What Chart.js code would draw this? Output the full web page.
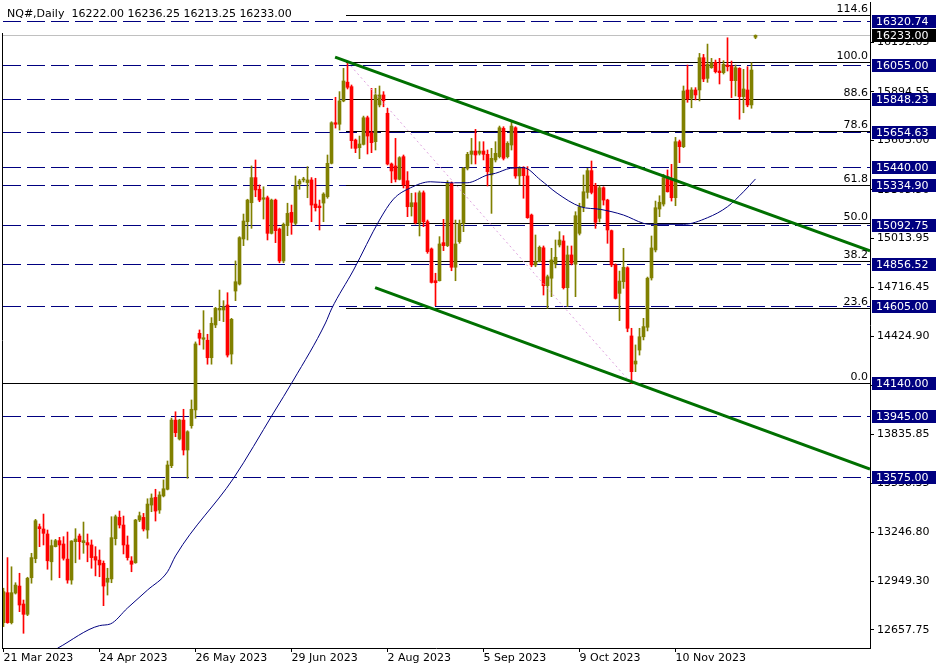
<!DOCTYPE html>
<html>
<head>
<meta charset="utf-8">
<title>NQ#, Daily</title>
<script src="https://cdn.jsdelivr.net/npm/chart.js@4.4.0/dist/chart.umd.min.js"></script>
<style>
  html, body { margin: 0; padding: 0; background: #fff; }
  #wrap { width: 941px; height: 672px; position: relative; }
</style>
</head>
<body>
<div id="wrap"><canvas id="chart"></canvas></div>
<script>
// bar index of each date label on the time axis
const dateTicks = [0, 24, 48, 72, 96, 120, 144, 168];
const dateLabels = ['21 Mar 2023', '24 Apr 2023', '26 May 2023', '29 Jun 2023',
                    '2 Aug 2023', '5 Sep 2023', '9 Oct 2023', '10 Nov 2023'];

// daily candles, one entry per bar
const opens = [
  12702, 12882, 12702, 12880, 12922, 12814, 12752, 12972, 13087, 13279,
  13265, 13235, 13068, 13159, 13195, 13175, 13084, 12958, 13189, 13223,
  13183, 13183, 13169, 13099, 13078, 13059, 12945, 12965, 13207, 13335,
  13289, 13169, 13073, 13062, 13319, 13335, 13259, 13409, 13455, 13379,
  13464, 13504, 13646, 13920, 13806, 13920, 13740, 13886, 13981, 14442,
  14406, 14400, 14295, 14492, 14582, 14582, 14612, 14317, 14696, 14738,
  15009, 15113, 15227, 15378, 15308, 15248, 15257, 15043, 15243, 15069,
  14877, 15089, 15169, 15103, 15340, 15364, 15348, 15364, 15219, 15207,
  15225, 15263, 15464, 15708, 15699, 15839, 15952, 15925, 15604, 15558,
  15578, 15738, 15648, 15594, 15815, 15875, 15765, 15460, 15448, 15368,
  15504, 15359, 15203, 15227, 15107, 15287, 15113, 14949, 14758, 14758,
  14987, 14969, 15344, 14839, 14993, 15103, 15434, 15518, 15538, 15524,
  15538, 15518, 15394, 15484, 15504, 15674, 15504, 15574, 15678, 15388,
  15434, 15388, 15153, 14853, 14872, 14956, 14728, 14773, 14859, 14973,
  14997, 14716, 14913, 14857, 15043, 15203, 15289, 15420, 15329, 15133,
  15317, 15243, 15059, 14853, 14682, 14752, 14836, 14426, 14257, 14341,
  14421, 14478, 14775, 14943, 15189, 15219, 15384, 15370, 15257, 15594,
  15564, 15905, 15855, 15905, 15905, 16099, 15975, 16039, 16071, 16019,
  16009, 16055, 16049, 15961, 16035, 15865, 15905, 15815, 16222
];
const highs = [
  12909, 13093, 13038, 12942, 12999, 12838, 12975, 13119, 13323, 13295,
  13355, 13259, 13199, 13203, 13215, 13219, 13247, 13195, 13267, 13235,
  13307, 13235, 13199, 13159, 13139, 13073, 13029, 13339, 13349, 13373,
  13343, 13223, 13099, 13323, 13367, 13359, 13447, 13476, 13504, 13489,
  13560, 13674, 13932, 13970, 13925, 13985, 13856, 14041, 14390, 14462,
  14578, 14436, 14536, 14598, 14702, 14638, 14686, 14532, 14877, 15023,
  15159, 15248, 15448, 15484, 15334, 15323, 15267, 15249, 15249, 15075,
  15105, 15224, 15213, 15388, 15368, 15380, 15444, 15378, 15374, 15243,
  15287, 15514, 15714, 15861, 15895, 16035, 16075, 15935, 15610, 15628,
  15748, 15748, 15915, 15915, 15929, 15895, 15795, 15466, 15614, 15504,
  15514, 15414, 15284, 15287, 15298, 15298, 15123, 14955, 14803, 15023,
  15127, 15359, 15352, 15123, 15123, 15440, 15530, 15614, 15668, 15594,
  15594, 15544, 15554, 15594, 15688, 15684, 15594, 15714, 15684, 15444,
  15444, 15444, 15159, 15033, 14967, 14967, 14792, 14953, 15003, 15053,
  15029, 14967, 14967, 15173, 15224, 15394, 15434, 15478, 15344, 15329,
  15323, 15248, 15063, 14859, 14816, 14953, 14842, 14472, 14372, 14472,
  14532, 14780, 15027, 15237, 15269, 15398, 15424, 15458, 15620, 15604,
  15929, 16055, 15919, 15919, 16125, 16119, 16181, 16095, 16085, 16095,
  16081, 16219, 16079, 16055, 16039, 16029, 16045, 16069, 16236.25
];
const lows = [
  12678, 12698, 12694, 12874, 12768, 12638, 12744, 12939, 13062, 13159,
  13169, 13023, 12958, 13157, 12972, 13078, 12939, 12933, 13062, 13083,
  13119, 13068, 13029, 12983, 12978, 12804, 12868, 12942, 13169, 13271,
  13115, 13078, 13008, 13059, 13309, 13253, 13209, 13369, 13313, 13359,
  13458, 13500, 13634, 13820, 13800, 13710, 13570, 13871, 13931, 14372,
  14346, 14256, 14256, 14476, 14518, 14512, 14299, 14257, 14638, 14732,
  14969, 15003, 15073, 15263, 15233, 15129, 15003, 15039, 14987, 14866,
  14866, 15029, 15037, 15093, 15308, 15352, 15257, 15113, 15177, 15063,
  15113, 15254, 15460, 15676, 15664, 15834, 15911, 15554, 15528, 15492,
  15574, 15520, 15528, 15544, 15803, 15804, 15454, 15347, 15352, 15364,
  15316, 15143, 15147, 15099, 15027, 15083, 14923, 14744, 14608, 14756,
  14939, 14963, 14818, 14758, 14983, 15053, 15424, 15460, 15460, 15514,
  15484, 15328, 15163, 15472, 15496, 15484, 15496, 15544, 15374, 15334,
  15254, 15133, 14842, 14842, 14871, 14672, 14592, 14662, 14835, 14961,
  14708, 14602, 14853, 14662, 15033, 15173, 15254, 15280, 15073, 15111,
  15213, 14983, 14842, 14648, 14518, 14712, 14451, 14140, 14211, 14311,
  14402, 14456, 14762, 14931, 15143, 15207, 15291, 15237, 15209, 15468,
  15558, 15831, 15798, 15845, 15839, 15955, 15951, 16035, 16007, 15941,
  16001, 16019, 15859, 15869, 15729, 15768, 15804, 15795, 16213.25
];
const closes = [
  12888, 12702, 12882, 12928, 12808, 12752, 12969, 13093, 13315, 13267,
  13239, 13074, 13165, 13195, 13169, 13089, 12958, 13193, 13205, 13189,
  13195, 13169, 13093, 13078, 13049, 12922, 12969, 13213, 13339, 13289,
  13169, 13093, 13053, 13319, 13345, 13265, 13415, 13451, 13373, 13470,
  13507, 13650, 13920, 13844, 13920, 13740, 13850, 13985, 14378, 14412,
  14415, 14295, 14502, 14592, 14592, 14602, 14311, 14526, 14752, 15017,
  15117, 15243, 15378, 15304, 15243, 15257, 15043, 15243, 15059, 14877,
  15097, 15163, 15109, 15328, 15358, 15366, 15364, 15213, 15197, 15197,
  15279, 15464, 15708, 15699, 15839, 15959, 15921, 15600, 15554, 15580,
  15738, 15628, 15588, 15875, 15875, 15840, 15460, 15418, 15368, 15498,
  15334, 15203, 15227, 15107, 15287, 15113, 14933, 14748, 14746, 14979,
  14969, 15344, 14839, 14979, 15103, 15434, 15518, 15538, 15514, 15538,
  15518, 15414, 15494, 15524, 15678, 15494, 15584, 15688, 15388, 15438,
  15390, 15137, 14853, 14872, 14959, 14728, 14782, 14883, 14899, 15003,
  14716, 14913, 14863, 15149, 15203, 15293, 15420, 15289, 15109, 15317,
  15243, 15063, 14853, 14652, 14756, 14839, 14472, 14211, 14275, 14421,
  14482, 14773, 14955, 15197, 15230, 15378, 15293, 15257, 15594, 15564,
  15899, 15851, 15905, 15875, 16099, 15971, 16059, 16069, 16015, 16009,
  16059, 16045, 15961, 16039, 15865, 15911, 15815, 16025, 16233
];

// moving average, read at a few bars along its curve
const maBars   = [13.5, 24, 26.7, 31, 36, 41, 43, 57.5, 67.5, 72.5, 80.5, 82, 87.5, 94, 97.5,
                  101.7, 106.7, 111.7, 115.9, 121, 123, 126.7, 130, 134.25, 138.4, 144.25,
                  149.25, 155, 160, 161.75, 170, 176, 181, 185, 188];
const maValues = [12548, 12684, 12694, 12790, 12898, 13008, 13103, 13570, 13963, 14161, 14504,
                  14588, 14822, 15123, 15249, 15316, 15353, 15347, 15347, 15394, 15404, 15434,
                  15438, 15364, 15284, 15203, 15187, 15153, 15103, 15097, 15097, 15137, 15203,
                  15293, 15370];

// horizontal price levels with their axis labels
const levelPrices = [16320.74, 16055.00, 15848.23, 15654.63, 15440.00, 15334.90,
                     15092.75, 14856.52, 14605.00, 14140.00, 13945.00, 13575.00];
const solidLevel = 14140.00;
const bidPrice = 16233.00;

// fibonacci retracement drawn from the July high to the October low
const fibFrom = { bar: 86, price: 16072 };
const fibTo = { bar: 157, price: 14140 };
const fibLabels = ['0.0', '23.6', '38.2', '50.0', '61.8', '78.6', '88.6', '100.0', '114.6'];
const fibPrices = [14140, 14596, 14878, 15106, 15334, 15658, 15850, 16072, 16354];

// channel trend lines: [startBar, startPrice, endBar, endPrice]
const upperTrend = [82.9, 16103, 216.625, 14937];
const lowerTrend = [92.9, 14717, 216.625, 13626];

// right axis tick values
const priceTicks = [16192.05, 15894.55, 15603.00, 15305.50, 15013.95, 14716.45, 14424.90,
                    14127.40, 13835.85, 13538.35, 13246.80, 12949.30, 12657.75];

const title = 'NQ#,Daily  16222.00 16236.25 16213.25 16233.00';
const FONT = '"DejaVu Sans", sans-serif';
const BULL = '#808000';
const BEAR = '#ff0000';

const bodies = opens.map((o, i) => ({ x: i, y: [o, closes[i]] }));
const wicks = opens.map((o, i) => ({ x: i, y: [lows[i], highs[i]] }));
const candleColors = opens.map((o, i) => closes[i] >= o ? BULL : BEAR);
const maPoints = maBars.map((b, i) => ({ x: b, y: maValues[i] }));

const overlay = {
    id: 'overlay',
    beforeDatasetsDraw(chart) {
        const { ctx, chartArea: a, scales: { x, y } } = chart;
        ctx.save();
        ctx.beginPath();
        ctx.rect(a.left, a.top, a.right - a.left, a.bottom - a.top);
        ctx.clip();
        ctx.lineWidth = 1;

        let py = Math.round(y.getPixelForValue(bidPrice)) + 0.5;
        ctx.strokeStyle = '#c0c0c0';
        ctx.beginPath(); ctx.moveTo(a.left, py); ctx.lineTo(a.right, py); ctx.stroke();

        ctx.strokeStyle = '#000080';
        ctx.setLineDash([18, 6]);
        levelPrices.forEach(p => {
            if (p === solidLevel) return;
            py = Math.round(y.getPixelForValue(p)) + 0.5;
            ctx.beginPath(); ctx.moveTo(a.left + 1, py); ctx.lineTo(a.right, py); ctx.stroke();
        });
        ctx.setLineDash([]);

        ctx.strokeStyle = '#000';
        py = Math.round(y.getPixelForValue(solidLevel)) + 0.5;
        ctx.beginPath(); ctx.moveTo(a.left, py); ctx.lineTo(a.right, py); ctx.stroke();

        const fx = Math.round(x.getPixelForValue(fibFrom.bar - 0.4));
        fibPrices.forEach(p => {
            py = Math.round(y.getPixelForValue(p)) + 0.5;
            ctx.beginPath(); ctx.moveTo(fx, py); ctx.lineTo(a.right, py); ctx.stroke();
        });
        ctx.restore();
    },
    afterDraw(chart) {
        const { ctx, chartArea: a, scales: { y } } = chart;
        ctx.save();
        ctx.font = '11px ' + FONT;

        // fibo level captions
        ctx.fillStyle = '#000';
        ctx.textAlign = 'right';
        ctx.textBaseline = 'alphabetic';
        fibPrices.forEach((p, i) => {
            const py = Math.round(y.getPixelForValue(p));
            ctx.fillText(fibLabels[i], a.right - 2, py - 3);
        });

        // left frame
        ctx.strokeStyle = '#000';
        ctx.lineWidth = 1;
        ctx.beginPath(); ctx.moveTo(a.left + 0.5, 33); ctx.lineTo(a.left + 0.5, a.bottom); ctx.stroke();

        // price boxes on the axis
        ctx.textAlign = 'left';
        ctx.textBaseline = 'middle';
        const box = (p, bg) => {
            const py = Math.round(y.getPixelForValue(p));
            ctx.fillStyle = bg;
            ctx.fillRect(a.right + 2, py - 6, 64, 13);
            ctx.fillStyle = '#fff';
            ctx.fillText(p.toFixed(2), a.right + 6, py + 1);
        };
        levelPrices.forEach(p => box(p, '#000080'));
        box(bidPrice, '#000');

        // symbol caption
        ctx.fillStyle = '#000';
        ctx.textBaseline = 'alphabetic';
        ctx.fillText(title, 7, 17);
        ctx.restore();
    }
};

new Chart(document.getElementById('chart').getContext('2d'), {
    data: {
        datasets: [
            {
                type: 'line',
                data: [{ x: upperTrend[0], y: upperTrend[1] }, { x: upperTrend[2], y: upperTrend[3] }],
                borderColor: '#007000',
                borderWidth: 3,
                pointRadius: 0,
                order: 0
            },
            {
                type: 'line',
                data: [{ x: lowerTrend[0], y: lowerTrend[1] }, { x: lowerTrend[2], y: lowerTrend[3] }],
                borderColor: '#007000',
                borderWidth: 3,
                pointRadius: 0,
                order: 0
            },
            {
                type: 'line',
                data: [{ x: fibFrom.bar, y: fibFrom.price }, { x: fibTo.bar, y: fibTo.price }],
                borderColor: '#dda0dd',
                borderWidth: 1,
                borderDash: [2, 3],
                pointRadius: 0,
                order: 1
            },
            {
                type: 'line',
                data: maPoints,
                borderColor: '#000080',
                borderWidth: 1,
                pointRadius: 0,
                cubicInterpolationMode: 'monotone',
                order: 1
            },
            {
                type: 'bar',
                data: bodies,
                backgroundColor: candleColors,
                borderWidth: 0,
                barThickness: 3,
                minBarLength: 1,
                grouped: false,
                order: 2
            },
            {
                type: 'bar',
                data: wicks,
                backgroundColor: candleColors,
                borderWidth: 0,
                barThickness: 1,
                grouped: false,
                order: 3
            }
        ]
    },
    options: {
        responsive: true,
        maintainAspectRatio: false,
        devicePixelRatio: 1,
        animation: false,
        events: [],
        layout: { padding: { left: 2, top: 2, right: 0, bottom: 0 } },
        plugins: {
            legend: { display: false },
            tooltip: { enabled: false }
        },
        scales: {
            x: {
                type: 'linear',
                offset: false,
                min: -0.375,
                max: 216.625,
                afterBuildTicks: s => { s.ticks = dateTicks.map(v => ({ value: v })); },
                afterFit: s => { s.height = 24; s.paddingLeft = 0; s.paddingRight = 0; },
                ticks: {
                    autoSkip: false,
                    maxRotation: 0,
                    align: 'start',
                    padding: 0,
                    color: '#000',
                    font: { family: FONT, size: 11 },
                    callback: (v, i) => dateLabels[i]
                },
                grid: { drawOnChartArea: false, drawTicks: true, tickLength: 4, tickColor: '#000', offset: false },
                border: { display: true, color: '#000', width: 1 }
            },
            y: {
                type: 'linear',
                position: 'right',
                min: 12549.5,
                max: 16434,
                afterBuildTicks: s => { s.ticks = priceTicks.map(v => ({ value: v })); },
                afterFit: s => { s.width = 71; s.paddingTop = 0; s.paddingBottom = 0; },
                ticks: {
                    padding: 3,
                    color: '#000',
                    font: { family: FONT, size: 11 },
                    callback: v => v.toFixed(2)
                },
                grid: { drawOnChartArea: false, drawTicks: true, tickLength: 4, tickColor: '#000' },
                border: { display: true, color: '#000', width: 1 }
            }
        }
    },
    plugins: [overlay]
});
</script>
</body>
</html>
